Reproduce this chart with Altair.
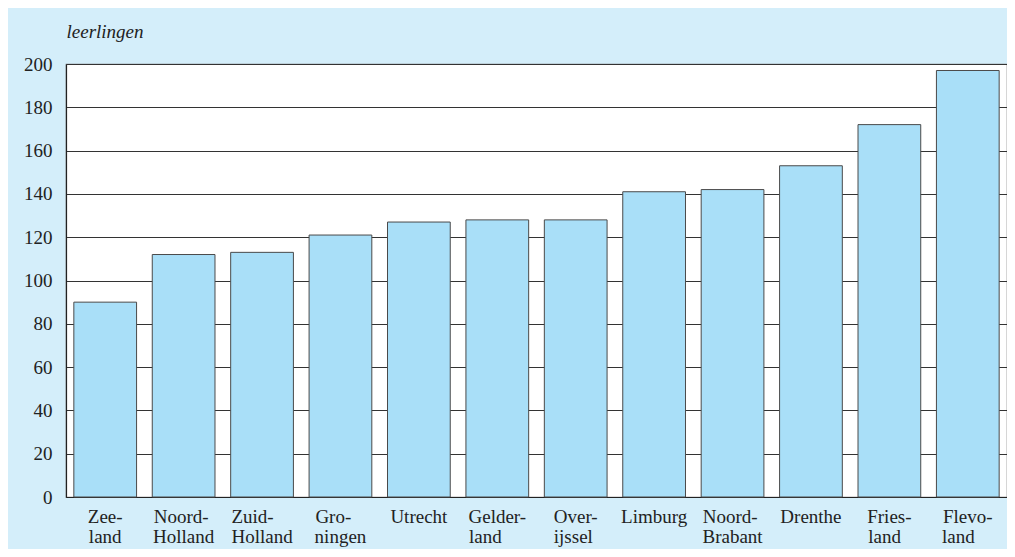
import altair as alt
import pandas as pd

provinces = ["Zeeland", "Noord-Holland", "Zuid-Holland", "Groningen", "Utrecht",
             "Gelderland", "Overijssel", "Limburg", "Noord-Brabant", "Drenthe",
             "Friesland", "Flevoland"]
leerlingen = [90, 112, 113, 121, 127, 128, 128, 141, 142, 153, 172, 197]
y_ticks = [0, 20, 40, 60, 80, 100, 120, 140, 160, 180, 200]

# no-break spaces followed by a zero-width space (so they are not trimmed)
def pad(n):
    return "\u00a0" * n + "\u200b"

# two-line tick labels (lines left aligned: shorter line padded)
tick_labels = {
    "Zeeland": ["Zee-", "land"],
    "Noord-Holland": ["Noord-" + pad(1), "Holland"],
    "Zuid-Holland": ["Zuid-" + pad(4), "Holland"],
    "Groningen": ["Gro-" + pad(3), "ningen"],
    "Utrecht": ["Utrecht"],
    "Gelderland": ["Gelder-", "land" + pad(5)],
    "Overijssel": ["Over-", "ijssel" + pad(1)],
    "Limburg": ["Limburg"],
    "Noord-Brabant": ["Noord-" + pad(1), "Brabant"],
    "Drenthe": ["Drenthe"],
    "Friesland": ["Fries-", "land" + pad(2)],
    "Flevoland": ["Flevo-", "land" + pad(4)],
}

df = pd.DataFrame({"provincie": provinces, "leerlingen": leerlingen})

label_map = "{" + ", ".join(
    "'" + k + "': [" + ", ".join("'" + s + "'" for s in v) + "]"
    for k, v in tick_labels.items()) + "}"
label_expr = label_map + "[datum.value]"

FONT = "Liberation Serif"

chart = alt.Chart(df).mark_bar(
    fill="#a9dff8", stroke="#4a4a4a", strokeWidth=1
).encode(
    x=alt.X("provincie:N", sort=provinces,
            scale=alt.Scale(paddingInner=0.2, paddingOuter=0.1),
            axis=alt.Axis(title=None, labelAngle=0, ticks=False, tickSize=0,
                          labelPadding=10, labelBaseline="top", labelLineHeight=20,
                          labelExpr=label_expr,
                          labelFont=FONT, labelFontSize=19, labelColor="#222",
                          domainColor="#222", domainWidth=1.2, grid=False)),
    y=alt.Y("leerlingen:Q",
            scale=alt.Scale(domain=[0, 200], nice=False),
            axis=alt.Axis(values=y_ticks, title="leerlingen", titleAngle=0,
                          titleAlign="left", titleBaseline="alphabetic",
                          titleX=0, titleY=-27, titleFont=FONT, titleFontSize=19,
                          titleFontStyle="italic", titleFontWeight="normal",
                          titleColor="#222",
                          ticks=False, tickSize=0, labelPadding=14,
                          labelFont=FONT, labelFontSize=19, labelColor="#222",
                          domainColor="#222", domainWidth=1.2,
                          grid=True, gridColor="#333", gridWidth=1)),
).properties(
    width=941, height=433,
    autosize=alt.AutoSizeParams(type="none"),
    padding={"left": 58, "top": 56, "right": 0, "bottom": 52},
    background="#d4eefa",
).configure_view(
    fill="white", stroke="#777", strokeWidth=1.2
)

chart.save("out.html", embed_options={"renderer": "svg", "actions": False})
